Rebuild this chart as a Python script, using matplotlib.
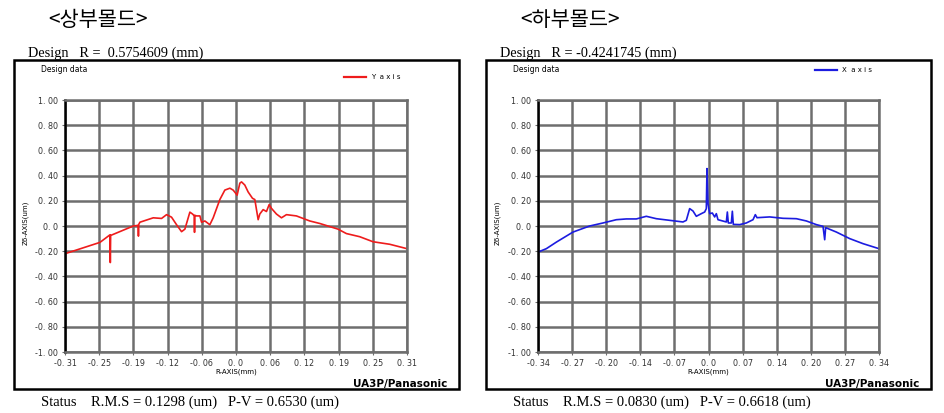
import matplotlib
matplotlib.use('Agg')
import matplotlib.pyplot as plt
from matplotlib.patches import Rectangle

# upper mold (Y axis scan)
upper_x = [-0.3125, -0.2486, -0.2303, -0.2297, -0.2291, -0.1877, -0.1786, -0.1783, -0.1780,
           -0.1756, -0.1512, -0.1360, -0.1269, -0.1178, -0.1086, -0.0995, -0.0934, -0.0843,
           -0.0794, -0.0761, -0.0758, -0.0755, -0.0721, -0.0660, -0.0630, -0.0569, -0.0478,
           -0.0417, -0.0295, -0.0204, -0.0112, -0.0052, 0.0021, 0.0070, 0.0101, 0.0161,
           0.0222, 0.0301, 0.0344, 0.0405, 0.0435, 0.0496, 0.0557, 0.0606, 0.0648, 0.0739,
           0.0831, 0.0922, 0.1104, 0.1226, 0.1348, 0.1531, 0.1865, 0.2017, 0.2261, 0.2504,
           0.2809, 0.3125]
upper_z = [-0.22, -0.13, -0.07, -0.29, -0.075, 0.0, 0.005, -0.08, 0.01,
           0.03, 0.065, 0.06, 0.09, 0.07, 0.01, -0.045, -0.025, 0.11,
           0.095, 0.08, -0.05, 0.085, 0.08, 0.08, 0.03, 0.04, 0.01,
           0.065, 0.21, 0.285, 0.30, 0.285, 0.245, 0.34, 0.35, 0.325,
           0.27, 0.22, 0.21, 0.05, 0.095, 0.13, 0.115, 0.17, 0.14, 0.095,
           0.065, 0.09, 0.08, 0.06, 0.04, 0.02, -0.025, -0.06, -0.085, -0.125,
           -0.145, -0.18]

# lower mold (X axis scan)
lower_x = [-0.3375, -0.3210, -0.3012, -0.2682, -0.2352, -0.2088, -0.1824, -0.1627, -0.1428,
           -0.1231, -0.1033, -0.0769, -0.0505, -0.0439, -0.0373, -0.0307, -0.0241, -0.0142,
           -0.0076, -0.0043, -0.0030, -0.0010, 0.0023, 0.0076, 0.0122, 0.0155, 0.0188,
           0.0353, 0.0373, 0.0392, 0.0452, 0.0472, 0.0491, 0.0617, 0.0749, 0.0881, 0.0927,
           0.0960, 0.1211, 0.1475, 0.1739, 0.1937, 0.2134, 0.2267, 0.2300, 0.2319, 0.2531,
           0.2795, 0.3058, 0.3375]
lower_z = [-0.207, -0.18, -0.128, -0.048, 0.0, 0.024, 0.05, 0.056, 0.056,
           0.077, 0.058, 0.045, 0.032, 0.045, 0.138, 0.119, 0.077, 0.098,
           0.111, 0.138, 0.456, 0.178, 0.098, 0.103, 0.072, 0.098, 0.05,
           0.032, 0.111, 0.024, 0.024, 0.117, 0.013, 0.011, 0.024, 0.05, 0.09,
           0.066, 0.072, 0.061, 0.058, 0.04, 0.011, -0.003, -0.109, -0.013, -0.048,
           -0.1, -0.14, -0.18]

y_ticks = [1.0, 0.8, 0.6, 0.4, 0.2, 0.0, -0.2, -0.4, -0.6, -0.8, -1.0]
y_labels = ['1. 00', '0. 80', '0. 60', '0. 40', '0. 20', '0. 0',
            '-0. 20', '-0. 40', '-0. 60', '-0. 80', '-1. 00']
upper_xlabels = ['-0. 31', '-0. 25', '-0. 19', '-0. 12', '-0. 06', '0. 0',
                 '0. 06', '0. 12', '0. 19', '0. 25', '0. 31']
lower_xlabels = ['-0. 34', '-0. 27', '-0. 20', '-0. 14', '-0. 07', '0. 0',
                 '0. 07', '0. 14', '0. 20', '0. 27', '0. 34']

panels = [
    dict(title='<상부몰드>', design='Design   R =  0.5754609 (mm)',
         status='Status    R.M.S = 0.1298 (um)   P-V = 0.6530 (um)',
         x=upper_x, z=upper_z, lim=0.3125, xlabels=upper_xlabels,
         color='#ee1c1c', legend='Y  a x i s', off=0, ax_l=65, ax_r=407, leg_y=77),
    dict(title='<하부몰드>', design='Design   R = -0.4241745 (mm)',
         status='Status    R.M.S = 0.0830 (um)   P-V = 0.6618 (um)',
         x=lower_x, z=lower_z, lim=0.3375, xlabels=lower_xlabels,
         color='#1c1ce0', legend='X  a x i s', off=472, ax_l=538, ax_r=879, leg_y=70),
]

W, H = 944, 413
fig = plt.figure(figsize=(W / 100, H / 100), dpi=100)

def fx(px):
    return px / W

def fy(py):
    return 1 - py / H

serif = ['Liberation Serif', 'DejaVu Serif']

for p in panels:
    o = p['off']
    fig.text(fx(48 + o), fy(20), p['title'], fontsize=15, va='center', ha='left',
             family=['Noto Sans CJK KR', 'DejaVu Sans'])
    fig.text(fx(28 + o), fy(53), p['design'], fontsize=10.3, va='center', ha='left', family=serif)
    fig.text(fx(41 + o), fy(402), p['status'], fontsize=10.5, va='center', ha='left', family=serif)
    fig.patches.append(Rectangle((fx(14 + o), fy(389)), fx(445), 329 / H, transform=fig.transFigure,
                                 fill=False, edgecolor='black', linewidth=1.8))
    fig.text(fx(41 + o), fy(70), 'Design data', fontsize=5.5, va='center', ha='left')
    fig.text(fx(447 + o), fy(384), 'UA3P/Panasonic', fontsize=7.5, fontweight='bold',
             va='center', ha='right')
    fig.text(fx(236 + o), fy(372), 'R-AXIS(mm)', fontsize=5, va='center', ha='center')
    fig.text(fx(25 + o), fy(223), 'Z6-AXIS(um)', fontsize=5, va='center', ha='center', rotation=90)

    ax = fig.add_axes([fx(p['ax_l']), fy(352), fx(p['ax_r'] - p['ax_l']), 252 / H])
    ax.plot(p['x'], p['z'], color=p['color'], linewidth=1.2)
    ax.set_xlim(-p['lim'], p['lim'])
    ax.set_ylim(-1.0, 1.0)
    step = 2 * p['lim'] / 10
    ax.set_xticks([-p['lim'] + i * step for i in range(11)])
    ax.set_xticklabels(p['xlabels'])
    ax.set_yticks(y_ticks)
    ax.set_yticklabels(y_labels)
    ax.grid(True, color='#6e6e6e', linewidth=1.8)
    ax.tick_params(labelsize=5.8, length=2, color='#6e6e6e', pad=3, labelcolor='#333333')
    for s in ax.spines.values():
        s.set_color('#6e6e6e')
        s.set_linewidth(1.8)
    ax.spines['left'].set_color('black')
    ax.set_axisbelow(True)

    ly = p['leg_y']
    lx0 = 344 + o if o == 0 else 815
    fig.add_artist(plt.Line2D([fx(lx0), fx(lx0 + 22)], [fy(ly), fy(ly)], color=p['color'],
                              linewidth=1.6, transform=fig.transFigure))
    fig.text(fx(lx0 + 27), fy(ly), p['legend'], fontsize=5, va='center', ha='left')

fig.savefig('out.png', dpi=100)
